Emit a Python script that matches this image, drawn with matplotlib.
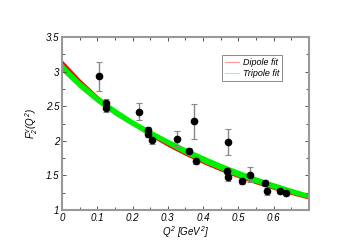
import numpy as np
import matplotlib
matplotlib.use('Agg')
import matplotlib.pyplot as plt
from matplotlib.ticker import MultipleLocator

plt.rcParams['font.family'] = ['Liberation Sans', 'DejaVu Sans']
plt.rcParams['font.style'] = 'italic'
plt.rcParams['mathtext.fontset'] = 'custom'
plt.rcParams['mathtext.it'] = 'Liberation Sans:italic'
plt.rcParams['mathtext.rm'] = 'Liberation Sans:italic'

# data points
q2 = [0.106, 0.124, 0.125, 0.217, 0.245, 0.245, 0.255, 0.326, 0.359, 0.375,
      0.380, 0.469, 0.472, 0.472, 0.511, 0.533, 0.577, 0.581, 0.617, 0.636]
f2v = [2.93, 2.55, 2.47, 2.42, 2.156, 2.10, 2.01, 2.03, 1.857, 2.28,
       1.71, 1.564, 1.98, 1.48, 1.42, 1.51, 1.39, 1.27, 1.27, 1.245]
f2v_err = [0.21, 0.06, 0.06, 0.12, 0.05, 0.05, 0.05, 0.11, 0.04, 0.25,
           0.05, 0.05, 0.19, 0.06, 0.04, 0.106, 0.04, 0.05, 0.03, 0.03]

# fit bands (edges read at Q^2 = 0, 0.05, ..., 0.70)
band_q2 = [0.0, 0.05, 0.10, 0.15, 0.20, 0.25, 0.30, 0.35, 0.40, 0.45,
           0.50, 0.55, 0.60, 0.65, 0.70]
dipole_hi = [3.170, 2.898, 2.660, 2.449, 2.263, 2.098, 1.949, 1.816, 1.696, 1.588,
             1.490, 1.400, 1.319, 1.244, 1.175]
dipole_lo = [3.120, 2.852, 2.618, 2.411, 2.228, 2.064, 1.919, 1.788, 1.670, 1.563,
             1.466, 1.378, 1.298, 1.224, 1.157]
tripole_hi = [3.120, 2.870, 2.655, 2.470, 2.305, 2.160, 2.025, 1.900, 1.785, 1.675,
              1.575, 1.480, 1.395, 1.315, 1.240]
tripole_lo = [3.000, 2.760, 2.550, 2.370, 2.215, 2.075, 1.940, 1.805, 1.685, 1.580,
              1.480, 1.390, 1.310, 1.235, 1.165]

fig = plt.figure(figsize=(3.51, 2.48), dpi=100)
ax = fig.add_axes([0.1766, 0.153, 0.7034, 0.698])

ax.fill_between(band_q2, dipole_lo, dipole_hi, color='#ff0000', lw=0)
ax.fill_between(band_q2, tripole_lo, tripole_hi, color='#00ee00', lw=0)

ax.errorbar(q2, f2v, yerr=f2v_err, fmt='o', color='black', ms=4.5,
            ecolor='#888888', elinewidth=1, capsize=2, capthick=0.8, zorder=5)

# legend proxies
ax.plot([], [], color='#ff9999', lw=0.8, label='Dipole fit')
ax.plot([], [], color='#99ff99', lw=0.8, label='Tripole fit')
leg = ax.legend(loc='upper right', bbox_to_anchor=(0.91, 0.92), fontsize=6.5,
                frameon=True, fancybox=False, edgecolor='#555555',
                handlelength=1.5, borderpad=0.3, labelspacing=0.2,
                handletextpad=0.5)
leg.get_frame().set_linewidth(0.6)

ax.set_xlim(0, 0.7)
ax.set_ylim(1, 3.5)
ax.xaxis.set_major_locator(MultipleLocator(0.1))
ax.xaxis.set_minor_locator(MultipleLocator(0.05))
ax.yaxis.set_major_locator(MultipleLocator(0.5))
ax.yaxis.set_minor_locator(MultipleLocator(0.25))
ax.set_xticks([0, 0.1, 0.2, 0.3, 0.4, 0.5, 0.6])
ax.set_xticklabels(['0', '0.1', '0.2', '0.3', '0.4', '0.5', '0.6'])
ax.set_yticks([1, 1.5, 2, 2.5, 3, 3.5])
ax.set_yticklabels(['1', '1.5', '2', '2.5', '3', '3.5'])
ax.tick_params(which='both', direction='in', top=True, right=True,
               color='#555555', labelsize=7, pad=2)
ax.tick_params(which='major', length=3, width=0.7)
ax.tick_params(which='minor', length=2, width=0.7)
for s in ax.spines.values():
    s.set_color('#999999')
    s.set_linewidth(1.5)

ax.set_xlabel(r'$Q^2\ [GeV^2]$', fontsize=7, labelpad=1)
ax.set_ylabel(r'$F_2^v(Q^2)$', fontsize=7, labelpad=4)

fig.savefig('out.png', dpi=100)
